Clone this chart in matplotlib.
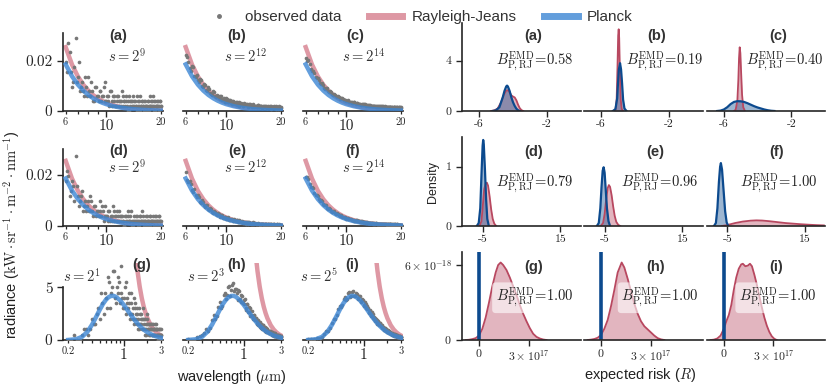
import matplotlib.pyplot as plt
import numpy as np
from matplotlib.lines import Line2D

plt.rcParams['font.family'] = ['Liberation Sans', 'DejaVu Sans']
plt.rcParams['mathtext.fontset'] = 'cm'
plt.rcParams['axes.unicode_minus'] = False

W, H = 826, 386

# ---------------- data ----------------
# observation wavelengths (um), two interleaved sweeps
wl_obs_ir = [6.0, 6.2, 6.4, 6.6, 6.8, 7.0, 7.2, 7.4, 7.6, 7.8,
             8.0, 8.2, 8.4, 8.6, 8.8, 9.0, 9.2, 9.4, 9.6, 9.8,
             10.0, 10.2, 10.4, 10.6, 10.8, 11.0, 11.2, 11.4, 11.6, 11.8,
             12.0, 12.2, 12.4, 12.6, 12.8, 13.0, 13.2, 13.4, 13.6, 13.8,
             14.0, 14.2, 14.4, 14.6, 14.8, 15.0, 15.2, 15.4, 15.6, 15.8,
             16.0, 16.2, 16.4, 16.6, 16.8, 17.0, 17.2, 17.4, 17.6, 17.8,
             18.0, 18.2, 18.4, 18.6, 18.8, 19.0, 19.2, 19.4, 19.6, 19.8,
             20.0]
wl_obs_ir2 = [6.1, 6.3, 6.5, 6.7, 6.9, 7.1, 7.3, 7.5, 7.7, 7.9,
              8.1, 8.3, 8.5, 8.7, 8.9, 9.1, 9.3, 9.5, 9.7, 9.9,
              10.1, 10.3, 10.5, 10.7, 10.9, 11.1, 11.3, 11.5, 11.7, 11.9,
              12.1, 12.3, 12.5, 12.7, 12.9, 13.1, 13.3, 13.5, 13.7, 13.9,
              14.1, 14.3, 14.5, 14.7, 14.9, 15.1, 15.3, 15.5, 15.7, 15.9,
              16.1, 16.3, 16.5, 16.7, 16.9, 17.1, 17.3, 17.5, 17.7, 17.9,
              18.1, 18.3, 18.5, 18.7, 18.9, 19.1, 19.3, 19.5, 19.7, 19.9]
wl_obs_vis = [0.20, 0.24, 0.28, 0.32, 0.36, 0.40, 0.44, 0.48, 0.52, 0.56,
              0.60, 0.64, 0.68, 0.72, 0.76, 0.80, 0.84, 0.88, 0.92, 0.96,
              1.00, 1.04, 1.08, 1.12, 1.16, 1.20, 1.24, 1.28, 1.32, 1.36,
              1.40, 1.44, 1.48, 1.52, 1.56, 1.60, 1.64, 1.68, 1.72, 1.76,
              1.80, 1.84, 1.88, 1.92, 1.96, 2.00, 2.04, 2.08, 2.12, 2.16,
              2.20, 2.24, 2.28, 2.32, 2.36, 2.40, 2.44, 2.48, 2.52, 2.56,
              2.60, 2.64, 2.68, 2.72, 2.76, 2.80, 2.84, 2.88, 2.92, 2.96,
              3.00]
wl_obs_vis2 = [0.22, 0.26, 0.30, 0.34, 0.38, 0.42, 0.46, 0.50, 0.54, 0.58,
               0.62, 0.66, 0.70, 0.74, 0.78, 0.82, 0.86, 0.90, 0.94, 0.98,
               1.02, 1.06, 1.10, 1.14, 1.18, 1.22, 1.26, 1.30, 1.34, 1.38,
               1.42, 1.46, 1.50, 1.54, 1.58, 1.62, 1.66, 1.70, 1.74, 1.78,
               1.82, 1.86, 1.90, 1.94, 1.98, 2.02, 2.06, 2.10, 2.14, 2.18,
               2.22, 2.26, 2.30, 2.34, 2.38, 2.42, 2.46, 2.50, 2.54, 2.58,
               2.62, 2.66, 2.70, 2.74, 2.78, 2.82, 2.86, 2.90, 2.94, 2.98]

# photon counts per panel (radiance = counts / s), s = 2**exponent
s_exponents = [9, 12, 14, 9, 12, 14, 1, 3, 5]
counts_a = [10, 14, 8, 6, 15, 7, 4, 6, 3, 5,
            7, 3, 4, 2, 5, 3, 4, 2, 3, 6,
            2, 3, 1, 4, 2, 3, 1, 2, 3, 1,
            2, 4, 1, 2, 3, 1, 2, 0, 2, 1,
            3, 1, 2, 1, 0, 2, 1, 3, 1, 2,
            1, 0, 2, 1, 1, 2, 0, 1, 2, 1,
            3, 1, 0, 2, 1, 1, 2, 0, 1, 2,
            1]
counts_a2 = [8, 12, 5, 9, 6, 10, 5, 4, 7, 3,
             4, 6, 2, 5, 3, 2, 4, 3, 5, 2,
             3, 2, 4, 1, 3, 2, 1, 3, 2, 2,
             1, 3, 2, 1, 2, 0, 3, 1, 2, 2,
             1, 2, 1, 3, 1, 2, 0, 1, 2, 1,
             2, 1, 1, 0, 2, 1, 3, 1, 1, 2,
             1, 2, 0, 1, 1, 2, 1, 0, 2, 1]
counts_b = [92, 81, 66, 72, 55, 50, 53, 41, 44, 35,
            39, 30, 27, 31, 23, 25, 19, 24, 20, 16,
            21, 15, 18, 13, 16, 14, 11, 15, 12, 9,
            13, 12, 8, 11, 10, 12, 7, 9, 11, 8,
            10, 6, 9, 8, 7, 10, 6, 8, 9, 5,
            7, 8, 6, 9, 5, 7, 6, 8, 4, 7,
            6, 5, 8, 6, 4, 7, 5, 6, 8, 4,
            6]
counts_b2 = [88, 71, 73, 57, 59, 47, 51, 39, 42, 33,
             36, 28, 32, 24, 27, 21, 25, 18, 22, 15,
             19, 14, 18, 12, 16, 13, 15, 10, 14, 11,
             12, 9, 13, 10, 11, 8, 12, 9, 10, 7,
             11, 8, 9, 7, 10, 6, 9, 8, 7, 9,
             6, 8, 7, 5, 9, 6, 7, 5, 8, 6,
             7, 5, 6, 8, 5, 7, 4, 6, 7, 5]
counts_c = [349, 331, 276, 262, 225, 216, 186, 181, 152, 153,
            131, 129, 112, 111, 97, 96, 85, 86, 76, 75,
            66, 69, 61, 62, 55, 56, 50, 52, 46, 48,
            42, 45, 40, 43, 37, 40, 35, 38, 33, 36,
            31, 35, 30, 33, 29, 31, 28, 32, 27, 30,
            26, 29, 25, 28, 24, 28, 24, 27, 23, 26,
            22, 26, 23, 25, 21, 25, 22, 24, 21, 25,
            22]
counts_c2 = [330, 309, 262, 251, 214, 206, 177, 172, 146, 148,
             126, 125, 106, 108, 93, 94, 81, 84, 72, 74,
             63, 68, 58, 61, 52, 56, 47, 51, 44, 48,
             40, 45, 38, 43, 35, 40, 33, 38, 31, 36,
             30, 35, 29, 34, 28, 32, 27, 32, 26, 31,
             25, 30, 24, 29, 23, 28, 23, 28, 22, 27,
             22, 27, 21, 26, 21, 26, 21, 25, 20, 25]
counts_d = [9, 10, 7, 8, 14, 6, 5, 7, 4, 3,
            5, 6, 3, 4, 2, 3, 5, 2, 3, 4,
            2, 1, 3, 2, 1, 3, 2, 1, 2, 3,
            1, 2, 1, 0, 2, 1, 3, 1, 2, 0,
            1, 2, 1, 1, 2, 0, 1, 2, 1, 3,
            1, 0, 1, 2, 1, 1, 0, 2, 1, 1,
            2, 0, 1, 1, 2, 1, 0, 1, 2, 1,
            1]
counts_d2 = [11, 6, 9, 5, 8, 4, 6, 3, 5, 4,
             3, 5, 2, 4, 3, 2, 3, 4, 1, 2,
             2, 3, 1, 2, 4, 1, 2, 3, 1, 2,
             2, 1, 0, 2, 1, 2, 1, 1, 3, 1,
             0, 1, 2, 1, 1, 0, 2, 1, 1, 2,
             1, 1, 0, 2, 1, 1, 2, 0, 1, 1,
             1, 0, 2, 1, 1, 0, 1, 2, 1, 0]
counts_e = [86, 70, 68, 55, 49, 50, 38, 41, 33, 34,
            27, 29, 22, 24, 19, 21, 16, 18, 13, 15,
            12, 14, 10, 12, 9, 11, 8, 10, 7, 9,
            6, 8, 7, 5, 7, 6, 4, 6, 5, 4,
            6, 3, 5, 4, 3, 5, 4, 2, 4, 3,
            4, 2, 3, 4, 2, 3, 3, 2, 4, 2,
            3, 2, 3, 1, 2, 3, 2, 1, 3, 2,
            2]
counts_e2 = [74, 73, 58, 60, 46, 47, 37, 39, 31, 33,
             25, 27, 21, 23, 18, 20, 15, 17, 13, 14,
             11, 13, 10, 11, 8, 10, 8, 9, 6, 8,
             7, 5, 7, 6, 4, 6, 5, 5, 3, 5,
             4, 5, 3, 4, 4, 3, 2, 4, 3, 3,
             2, 4, 3, 2, 3, 2, 3, 1, 3, 2,
             2, 3, 1, 2, 3, 2, 1, 2, 2, 1]
counts_f = [318, 305, 251, 244, 199, 195, 161, 160, 134, 133,
            110, 112, 93, 94, 78, 80, 66, 69, 57, 60,
            48, 53, 43, 46, 37, 41, 33, 36, 29, 33,
            26, 30, 23, 27, 21, 24, 19, 22, 17, 20,
            16, 19, 15, 18, 13, 16, 12, 15, 11, 14,
            11, 13, 10, 12, 9, 12, 9, 11, 8, 11,
            8, 10, 8, 10, 7, 10, 7, 9, 7, 9,
            8]
counts_f2 = [312, 270, 251, 214, 201, 173, 166, 143, 137, 117,
             114, 98, 96, 82, 82, 70, 70, 60, 60, 51,
             53, 45, 47, 39, 41, 35, 36, 31, 33, 27,
             29, 25, 27, 23, 24, 21, 22, 19, 20, 17,
             19, 16, 17, 15, 16, 14, 15, 13, 14, 12,
             13, 11, 12, 11, 12, 10, 11, 10, 11, 9,
             10, 9, 10, 8, 10, 8, 9, 8, 9, 8]
counts_g = [0, 1, 0, 2, 1, 4, 3, 6, 9, 5,
            8, 12, 6, 10, 13, 7, 9, 11, 14, 8,
            6, 10, 5, 8, 7, 4, 9, 5, 6, 3,
            7, 4, 5, 2, 6, 3, 4, 5, 2, 4,
            3, 1, 4, 2, 3, 5, 2, 3, 1, 2,
            3, 2, 1, 2, 3, 1, 2, 2, 1, 3,
            2, 1, 2, 0, 1, 2, 1, 2, 1, 0,
            1]
counts_g2 = [0, 0, 1, 2, 2, 3, 5, 4, 7, 9,
             6, 11, 9, 13, 8, 10, 12, 7, 9, 6,
             8, 11, 7, 6, 9, 5, 7, 4, 8, 6,
             5, 3, 6, 4, 2, 5, 3, 4, 6, 2,
             4, 2, 3, 1, 4, 2, 3, 2, 1, 3,
             2, 1, 3, 2, 1, 2, 1, 3, 2, 1,
             1, 2, 0, 1, 2, 1, 1, 0, 2, 1]
counts_h = [1, 0, 3, 5, 7, 15, 16, 25, 24, 34,
            31, 40, 33, 42, 37, 39, 30, 37, 29, 33,
            27, 31, 23, 27, 21, 24, 19, 22, 16, 19,
            15, 17, 12, 15, 11, 14, 9, 12, 8, 11,
            8, 10, 7, 9, 6, 8, 6, 7, 5, 7,
            5, 6, 4, 6, 4, 5, 3, 5, 3, 4,
            3, 4, 3, 4, 2, 4, 2, 3, 2, 3,
            2]
counts_h2 = [0, 2, 4, 8, 9, 19, 18, 29, 26, 36,
             34, 41, 38, 43, 39, 36, 38, 31, 34, 28,
             30, 24, 27, 21, 25, 18, 22, 17, 19, 15,
             17, 13, 15, 11, 14, 10, 12, 9, 11, 8,
             10, 7, 9, 6, 8, 6, 7, 5, 7, 5,
             6, 4, 6, 4, 5, 3, 5, 3, 4, 3,
             4, 2, 4, 3, 3, 2, 3, 2, 3, 2]
counts_i = [2, 4, 6, 19, 28, 53, 64, 93, 99, 124,
            121, 143, 131, 147, 134, 142, 127, 135, 119, 124,
            107, 116, 96, 103, 86, 92, 76, 84, 67, 71,
            59, 65, 52, 57, 49, 51, 41, 45, 36, 40,
            31, 36, 29, 33, 25, 29, 23, 26, 20, 24,
            18, 22, 16, 20, 15, 18, 13, 17, 12, 15,
            11, 14, 10, 13, 10, 12, 9, 11, 8, 10,
            8]
counts_i2 = [3, 6, 10, 27, 36, 64, 75, 104, 107, 130,
             125, 145, 134, 148, 133, 140, 124, 133, 115, 121,
             104, 110, 93, 98, 82, 88, 73, 78, 64, 68,
             57, 62, 50, 55, 46, 51, 41, 44, 35, 39,
             31, 35, 28, 32, 25, 29, 23, 26, 21, 24,
             18, 21, 17, 19, 15, 18, 14, 16, 12, 15,
             11, 14, 10, 13, 10, 12, 9, 11, 8, 10]

# fitted model curves (kW sr^-1 m^-2 nm^-1)
wl_curve_ir = [6, 6.5, 7, 7.5, 8, 8.5, 9, 9.5, 10, 11, 12, 13, 14, 15, 16, 17, 18, 19, 20]
planck_ir = [0.01865, 0.01389, 0.01055, 0.00816, 0.00640, 0.005095, 0.004105, 0.003344,
             0.002751, 0.001912, 0.001370, 0.001006, 0.000756, 0.000579, 0.000451,
             0.000356, 0.000285, 0.000231, 0.000189]
rj_ir = [0.02555, 0.01855, 0.01379, 0.010465, 0.008083, 0.006343, 0.005047, 0.004065,
         0.003311, 0.002262, 0.001597, 0.001159, 0.000862, 0.000654, 0.000505,
         0.000396, 0.000315, 0.000254, 0.000207]
wl_curve_vis = [0.2, 0.25, 0.3, 0.35, 0.4, 0.45, 0.5, 0.55, 0.6, 0.65, 0.7, 0.75, 0.8, 0.9,
                1.0, 1.1, 1.2, 1.3, 1.4, 1.5, 1.6, 1.7, 1.8, 1.9, 2.0, 2.2, 2.4, 2.6, 2.8, 3.0]
planck_vis = [0.006, 0.069, 0.304, 0.780, 1.446, 2.180, 2.865, 3.423, 3.825, 4.072, 4.181,
              4.182, 4.098, 3.776, 3.356, 2.922, 2.514, 2.152, 1.837, 1.568, 1.341, 1.150,
              0.988, 0.853, 0.738, 0.560, 0.430, 0.335, 0.265, 0.212]
wl_rj_vis = [1.3, 1.4, 1.5, 1.6, 1.7, 1.8, 1.9, 2.0, 2.2, 2.4, 2.6, 2.8, 3.0]
rj_vis = [11.59, 8.62, 6.54, 5.05, 3.96, 3.15, 2.54, 2.07, 1.41, 0.998, 0.725, 0.539, 0.409]

# expected-risk densities (right block)
kde_a_p_x = [-5.2, -5.0, -4.8, -4.6, -4.5, -4.4, -4.35, -4.3, -4.2, -4.1, -4.0, -3.9, -3.8, -3.7, -3.6]
kde_a_p_y = [0, 0.05, 0.3, 1.1, 1.6, 1.95, 2.02, 1.95, 1.6, 1.1, 0.7, 0.4, 0.18, 0.06, 0]
kde_a_rj_x = [-5.3, -5.1, -4.9, -4.7, -4.55, -4.4, -4.3, -4.2, -4.1, -4.0, -3.9, -3.8, -3.7, -3.6, -3.5, -3.4]
kde_a_rj_y = [0, 0.05, 0.2, 0.7, 1.25, 1.62, 1.65, 1.5, 1.25, 1.15, 1.08, 0.85, 0.5, 0.22, 0.07, 0]
kde_b_p_x = [-5.3, -5.15, -5.05, -5.0, -4.95, -4.88, -4.82, -4.76, -4.7, -4.62, -4.5]
kde_b_p_y = [0, 0.15, 1.0, 2.2, 3.3, 3.8, 3.3, 2.2, 0.9, 0.2, 0]
kde_b_rj_x = [-5.25, -5.15, -5.08, -5.03, -4.99, -4.96, -4.93, -4.89, -4.84, -4.78, -4.7]
kde_b_rj_y = [0, 0.1, 0.9, 3.5, 6.0, 6.5, 5.8, 3.2, 0.9, 0.15, 0]
kde_c_p_x = [-6.4, -6.2, -6.0, -5.8, -5.6, -5.4, -5.2, -5.0, -4.8, -4.6, -4.4, -4.2, -4.0, -3.8, -3.6, -3.4, -3.2, -3.0]
kde_c_p_y = [0, 0.03, 0.12, 0.3, 0.55, 0.72, 0.78, 0.77, 0.72, 0.62, 0.5, 0.38, 0.28, 0.2, 0.12, 0.06, 0.02, 0]
kde_c_rj_x = [-5.4, -5.3, -5.2, -5.14, -5.1, -5.06, -5.02, -4.98, -4.92, -4.85, -4.75]
kde_c_rj_y = [0, 0.1, 0.8, 2.5, 4.2, 5.07, 4.6, 3.2, 1.3, 0.3, 0]
kde_d_p_x = [-6.5, -6.0, -5.6, -5.3, -5.0, -4.85, -4.7, -4.4, -4.1, -3.8, -3.4]
kde_d_p_y = [0, 0.05, 0.3, 0.85, 1.35, 1.45, 1.38, 0.95, 0.45, 0.12, 0]
kde_d_rj_x = [-5.8, -5.3, -5.0, -4.6, -4.2, -3.9, -3.6, -3.2, -2.8, -2.4, -2.0, -1.5]
kde_d_rj_y = [0, 0.08, 0.3, 0.62, 0.72, 0.73, 0.68, 0.5, 0.28, 0.12, 0.04, 0]
kde_e_p_x = [-7.0, -6.5, -6.1, -5.8, -5.5, -5.25, -5.0, -4.7, -4.4, -4.0, -3.6]
kde_e_p_y = [0, 0.05, 0.3, 0.65, 0.93, 0.99, 0.9, 0.6, 0.3, 0.08, 0]
kde_e_rj_x = [-6.0, -5.4, -5.0, -4.6, -4.2, -3.9, -3.6, -3.2, -2.8, -2.4, -2.0, -1.5, -1.0]
kde_e_rj_y = [0, 0.05, 0.2, 0.45, 0.64, 0.69, 0.66, 0.52, 0.33, 0.17, 0.07, 0.02, 0]
kde_f_p_x = [-8.5, -8.0, -7.6, -7.2, -6.9, -6.7, -6.4, -6.0, -5.6, -5.2, -4.8]
kde_f_p_y = [0, 0.05, 0.3, 0.75, 1.0, 1.06, 0.95, 0.6, 0.25, 0.06, 0]
kde_f_rj_x = [-6.5, -5.5, -4.5, -3, -1, 1, 2.5, 4, 6, 8, 10, 12, 14, 16, 18, 20]
kde_f_rj_y = [0, 0.01, 0.025, 0.05, 0.075, 0.09, 0.095, 0.092, 0.08, 0.065, 0.05, 0.04, 0.03, 0.022, 0.015, 0.01]
# bottom row: risk in units of 1e17, density in units of 1e-18
kde_g_rj_x = [-0.8, -0.6, -0.4, -0.2, 0.0, 0.2, 0.4, 0.6, 0.8, 1.0, 1.15, 1.3, 1.45, 1.65, 1.85,
              2.05, 2.25, 2.45, 2.65, 2.85, 3.05, 3.25, 3.45, 3.65, 3.85, 4.05]
kde_g_rj_y = [0, 0.02, 0.07, 0.15, 0.35, 0.9, 1.8, 3.0, 4.3, 5.4, 6.0, 6.2, 6.0, 5.6, 5.0,
              4.3, 3.6, 2.8, 2.1, 1.5, 0.95, 0.5, 0.25, 0.12, 0.04, 0]
kde_h_rj_x = [-0.8, -0.6, -0.4, -0.2, 0.0, 0.2, 0.4, 0.6, 0.8, 1.0, 1.24, 1.4, 1.6, 1.8, 2.0,
              2.2, 2.4, 2.6, 2.8, 3.0, 3.2, 3.4, 3.6, 3.8]
kde_h_rj_y = [0, 0.03, 0.08, 0.18, 0.4, 0.9, 1.6, 2.7, 4.0, 5.4, 6.2, 5.8, 4.9, 3.9, 2.9,
              2.1, 1.5, 1.1, 0.85, 0.6, 0.35, 0.15, 0.05, 0]
kde_i_rj_x = [-0.8, -0.6, -0.4, -0.2, 0.0, 0.15, 0.3, 0.45, 0.6, 0.75, 0.9, 1.05, 1.15, 1.3,
              1.45, 1.58, 1.7, 1.85, 2.0, 2.15, 2.3, 2.45, 2.6, 2.75, 2.9, 3.05, 3.2]
kde_i_rj_y = [0, 0.03, 0.12, 0.35, 0.9, 1.5, 2.0, 2.8, 4.0, 5.0, 5.7, 6.05, 6.1, 5.9,
              5.95, 6.1, 5.9, 5.2, 4.4, 3.5, 2.6, 1.8, 1.15, 0.65, 0.3, 0.1, 0]
planck_risk_ghi = [-4.9, -5.2, -6.7]
risk_unit = 1e17
dens_unit = 1e-18

b_emd = [0.58, 0.19, 0.40, 0.79, 0.96, 1.00, 1.00, 1.00, 1.00]
panel_tags = ['(a)', '(b)', '(c)', '(d)', '(e)', '(f)', '(g)', '(h)', '(i)']

# ---------------- style ----------------
RJ_LINE = '#c85468'
PL_LINE = '#3c86d4'
RJ_DENS = '#b84860'
PL_DENS = '#0c4a8e'
GRAY = '#777777'
SPINE = '#262626'
CURVE_LW = 3.2
DOT = 7


def px_axes(fig, left, top, right, bottom):
    return fig.add_axes([left / W, 1 - bottom / H, (right - left) / W, (bottom - top) / H])


def style_spines(ax, show_left):
    ax.spines['top'].set_visible(False)
    ax.spines['right'].set_visible(False)
    ax.spines['left'].set_visible(show_left)
    for side in ('left', 'bottom'):
        ax.spines[side].set_color(SPINE)
        ax.spines[side].set_linewidth(1.2)
    ax.tick_params(colors=SPINE, width=1.0, length=4)
    if not show_left:
        ax.tick_params(axis='y', left=False, labelleft=False)


fig = plt.figure(figsize=(W / 100, H / 100), dpi=100)

left_cols = [(63, 163), (183, 283), (303, 403)]
left_rows = [(33, 111), (149, 226), (263, 340)]
right_cols = [(462, 581), (584, 703), (707, 825)]
right_rows = [(23, 111), (137, 226), (252, 340)]

all_counts = [(counts_a, counts_a2), (counts_b, counts_b2), (counts_c, counts_c2),
              (counts_d, counts_d2), (counts_e, counts_e2), (counts_f, counts_f2),
              (counts_g, counts_g2), (counts_h, counts_h2), (counts_i, counts_i2)]

# left block: observed data and fitted curves
title_x_left = [0.55, 0.54, 0.52, 0.56, 0.54, 0.5, 0.79, 0.54, 0.49]
title_y_left = [0.96, 0.975, 0.97]
s_pos_left = [(0.64, 0.705), (0.62, 0.705), (0.61, 0.705),
              (0.64, 0.77), (0.62, 0.77), (0.61, 0.77),
              (0.19, 0.83), (0.23, 0.83), (0.16, 0.83)]
for r in range(3):
    for c in range(3):
        k = 3 * r + c
        ax = px_axes(fig, left_cols[c][0], left_rows[r][0], left_cols[c][1], left_rows[r][1])
        ax.set_xscale('log')
        s = 2 ** s_exponents[k]
        rad1 = np.array(all_counts[k][0]) / s
        rad2 = np.array(all_counts[k][1]) / s
        if r < 2:
            ax.plot(wl_curve_ir, rj_ir, color=RJ_LINE, lw=CURVE_LW, alpha=0.6, zorder=2)
            ax.scatter(wl_obs_ir, rad1, s=DOT, color=GRAY, lw=0, zorder=3)
            ax.scatter(wl_obs_ir2, rad2, s=DOT, color=GRAY, lw=0, zorder=3)
            ax.plot(wl_curve_ir, planck_ir, color=PL_LINE, lw=CURVE_LW, alpha=0.8, zorder=4)
            ax.set_xlim(5.8, 20.5)
            ax.set_ylim(0, 0.0312 if r == 0 else 0.0302)
            ax.set_xticks([10], ['10'], fontfamily='cmr10', fontsize=11)
            ax.set_xticks([6, 7, 8, 9, 20], ['6', '', '', '', '20'], minor=True,
                          fontfamily='cmr10', fontsize=7.5)
            yt, ytl = [0, 0.02], ['0', '0.02']
        else:
            ax.plot(wl_rj_vis, rj_vis, color=RJ_LINE, lw=CURVE_LW, alpha=0.6, zorder=2)
            ax.scatter(wl_obs_vis, rad1, s=DOT, color=GRAY, lw=0, zorder=3)
            ax.scatter(wl_obs_vis2, rad2, s=DOT, color=GRAY, lw=0, zorder=3)
            ax.plot(wl_curve_vis, planck_vis, color=PL_LINE, lw=CURVE_LW, alpha=0.8, zorder=4)
            ax.set_xlim(0.172, 3.15)
            ax.set_ylim(0, 7.3)
            ax.set_xticks([1], ['1'], fontfamily='cmr10', fontsize=11)
            ax.set_xticks([0.2, 0.3, 0.4, 0.5, 0.6, 0.7, 0.8, 0.9, 2, 3],
                          ['0.2', '', '', '', '', '', '', '', '', '3'], minor=True,
                          fontfamily='cmr10', fontsize=7.5)
            yt, ytl = [0, 5], ['0', '5']
        style_spines(ax, c == 0)
        ax.tick_params(axis='x', which='minor', length=2.5, width=0.9, colors=SPINE, pad=2)
        ax.tick_params(axis='x', which='major', pad=2)
        if c == 0:
            ax.set_yticks(yt, ytl, fontfamily='cmr10', fontsize=11)
            if r == 2:
                ax.spines['left'].set_bounds(0, 5)
        else:
            ax.set_yticks([])
        ax.text(title_x_left[k], title_y_left[r], panel_tags[k], transform=ax.transAxes,
                ha='center', va='center', fontsize=10.5, fontweight='bold', color='#333333')
        ax.text(s_pos_left[k][0], s_pos_left[k][1], r'$s=2^{%d}$' % s_exponents[k],
                transform=ax.transAxes, ha='center', va='center', fontsize=10.5, color='#333333')

# right block: expected-risk densities
kde_top = [(kde_a_p_x, kde_a_p_y, kde_a_rj_x, kde_a_rj_y),
           (kde_b_p_x, kde_b_p_y, kde_b_rj_x, kde_b_rj_y),
           (kde_c_p_x, kde_c_p_y, kde_c_rj_x, kde_c_rj_y),
           (kde_d_p_x, kde_d_p_y, kde_d_rj_x, kde_d_rj_y),
           (kde_e_p_x, kde_e_p_y, kde_e_rj_x, kde_e_rj_y),
           (kde_f_p_x, kde_f_p_y, kde_f_rj_x, kde_f_rj_y)]
kde_bottom = [(kde_g_rj_x, kde_g_rj_y), (kde_h_rj_x, kde_h_rj_y), (kde_i_rj_x, kde_i_rj_y)]
title_x_right = [0.6, 0.61, 0.6, 0.6, 0.6, 0.59, 0.6, 0.6, 0.59]
title_y_right = [0.85, 0.83, 0.83]
b_pos = [(0.61, 0.56), (0.68, 0.56), (0.66, 0.56),
         (0.61, 0.48), (0.64, 0.48), (0.61, 0.48),
         (0.61, 0.48), (0.64, 0.48), (0.60, 0.48)]

for r in range(3):
    for c in range(3):
        k = 3 * r + c
        ax = px_axes(fig, right_cols[c][0], right_rows[r][0], right_cols[c][1], right_rows[r][1])
        if r < 2:
            px, py, rx, ry = kde_top[k]
            ax.fill_between(rx, ry, color=RJ_DENS, alpha=0.4, lw=0)
            ax.plot(rx, ry, color=RJ_DENS, lw=1.3)
            ax.fill_between(px, py, color=PL_DENS, alpha=0.4, lw=0)
            ax.plot(px, py, color=PL_DENS, lw=1.6)
        else:
            rx, ry = kde_bottom[c]
            rx = np.array(rx) * risk_unit
            ry = np.array(ry) * dens_unit
            ax.fill_between(rx, ry, color=RJ_DENS, alpha=0.4, lw=0)
            ax.plot(rx, ry, color=RJ_DENS, lw=1.3)
            ax.axvline(planck_risk_ghi[c], color=PL_DENS, lw=2.6)
        if r == 0:
            ax.set_xlim(-7, 0)
            ax.set_ylim(0, 7.0)
            ax.set_xticks([-6, -2], ['-6', '-2'], fontfamily='cmr10', fontsize=8.5)
            yt, ytl = [0, 4], ['0', '4']
        elif r == 1:
            ax.set_xlim(-10.3, 20.3)
            ax.set_ylim(0, 1.5)
            ax.set_xticks([-5, 15], ['-5', '15'], fontfamily='cmr10', fontsize=8.5)
            yt, ytl = [0, 1], ['0', '1']
        else:
            ax.set_xlim(-1.02e17, 6.12e17)
            ax.set_ylim(0, 7.04e-18)
            ax.set_xticks([0, 3e17], ['$0$', r'$3\times10^{17}$'], fontsize=8.5)
            yt, ytl = [0, 6e-18], ['$0$', r'$6\times10^{-18}$']
        style_spines(ax, c == 0)
        ax.tick_params(axis='x', pad=2)
        if c == 0:
            if r < 2:
                ax.set_yticks(yt, ytl, fontfamily='cmr10', fontsize=8.5)
            else:
                ax.set_yticks(yt, ytl, fontsize=8.5)
        else:
            ax.set_yticks([])
        ax.text(title_x_right[k], title_y_right[r], panel_tags[k], transform=ax.transAxes,
                ha='center', va='center', fontsize=10.5, fontweight='bold', color='#333333')
        btxt = r'$B^{\mathrm{EMD}}_{\mathrm{P,RJ}}\!=\!%.2f$' % b_emd[k]
        bbox = None
        if r == 2:
            bbox = dict(boxstyle='round,pad=0.25', facecolor='white', edgecolor='none', alpha=0.6)
        ax.text(b_pos[k][0], b_pos[k][1], btxt, transform=ax.transAxes, ha='center',
                va='center', fontsize=10.5, color='#222222', bbox=bbox)

# shared labels
fig.text(12 / W, 1 - 235 / H,
         r'radiance ($\mathrm{kW}\cdot\mathrm{sr}^{-1}\cdot\mathrm{m}^{-2}\cdot\mathrm{nm}^{-1}$)',
         rotation=90, ha='center', va='center', fontsize=10.5, color='#222222')
fig.text(232 / W, 1 - 377 / H, r'wavelength ($\mu\mathrm{m}$)', ha='center', va='center',
         fontsize=10.5, color='#222222')
fig.text(640 / W, 1 - 375 / H, r'expected risk ($R$)', ha='center', va='center',
         fontsize=10.5, color='#222222')
fig.text(433 / W, 1 - 182 / H, 'Density', rotation=90, ha='center', va='center',
         fontsize=9, color='#222222')

handles = [Line2D([], [], marker='o', ls='', color=GRAY, markersize=2.5),
           Line2D([], [], color=RJ_LINE, lw=5, alpha=0.6),
           Line2D([], [], color=PL_LINE, lw=5, alpha=0.8)]
fig.legend(handles, ['observed data', 'Rayleigh-Jeans', 'Planck'], loc='upper center',
           bbox_to_anchor=(0.505, 1.01), ncol=3, frameon=False, fontsize=11,
           handlelength=2.2, columnspacing=1.8, handletextpad=0.6, labelcolor='#333333')

fig.savefig('out.png', dpi=100)
plt.close(fig)
